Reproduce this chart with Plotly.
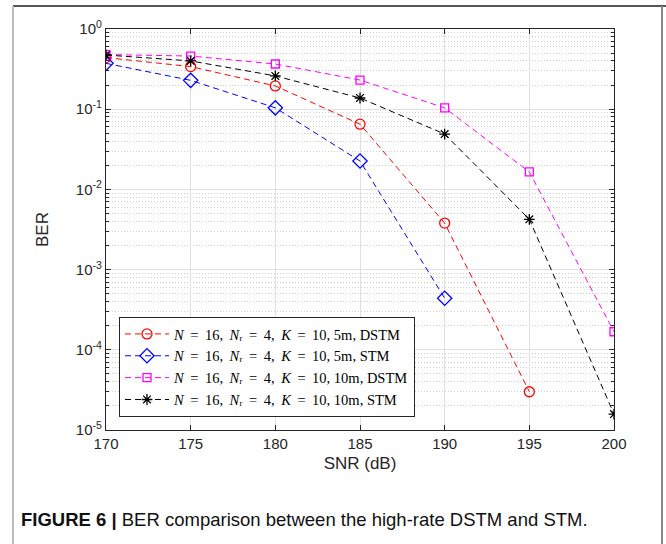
import plotly.graph_objects as go

snr = [170, 175, 180, 185, 190, 195, 200]

ber_5m_dstm = [0.44, 0.34, 0.195, 0.065, 0.0038, 3.0e-5]
ber_5m_stm = [0.373, 0.229, 0.104, 0.0226, 4.4e-4]
ber_10m_dstm = [0.48, 0.46, 0.366, 0.231, 0.104, 0.0165, 1.68e-4]
ber_10m_stm = [0.474, 0.40, 0.26, 0.138, 0.049, 0.00424, 1.58e-5]

TS = "\u2009"
EQ = "&nbsp;" + TS + "=&nbsp;" + TS
CM = ",&nbsp;" + TS
base = f"<i>N</i>{EQ}16{CM}<i>N</i>ᵣ{EQ}4{CM}<i>K</i>{EQ}10, "
names = [
    base + "5m, DSTM",
    base + "5m, STM",
    base + "10m, DSTM",
    base + "10m, STM",
]
colors = ["#FF0000", "#0000FF", "#FF00FF", "#000000"]
symbols = ["circle-open", "diamond-open", "square-open", "asterisk-open"]
sizes = [10, 11, 8, 9]
series = [ber_5m_dstm, ber_5m_stm, ber_10m_dstm, ber_10m_stm]

y_tickvals = [1, 0.1, 0.01, 0.001, 1e-4, 1e-5]
y_ticktext = ["10<sup>0</sup>", "10<sup>-1</sup>", "10<sup>-2</sup>",
              "10<sup>-3</sup>", "10<sup>-4</sup>", "10<sup>-5</sup>"]
x_tickvals = [170, 175, 180, 185, 190, 195, 200]

minor_vals = [m * 10 ** e for e in range(-5, 0) for m in range(2, 10)]

fig = go.Figure()
for ys, nm, c, s, sz in zip(series, names, colors, symbols, sizes):
    fig.add_trace(go.Scatter(
        x=snr[:len(ys)], y=ys, name=nm, mode="lines+markers",
        line=dict(color=c, width=1, dash="6px,4px"),
        marker=dict(symbol=s, size=sz, color=c, line=dict(color=c, width=1.3)),
    ))

W, H = 666, 544
L, R, T, B = 106, 614, 29, 430
pw, ph = R - L, B - T

def px(xp):
    return (xp - L) / pw

def py(yp):
    return (B - yp) / ph

fig.update_layout(
    width=W, height=H,
    margin=dict(l=L, r=W - R, t=T, b=H - B),
    paper_bgcolor="white", plot_bgcolor="white",
    font=dict(family="Liberation Sans, Arial, sans-serif", size=15, color="#262626"),
    showlegend=True,
    legend=dict(
        x=px(119), y=py(417), xanchor="left", yanchor="bottom",
        bgcolor="white", bordercolor="#262626", borderwidth=1,
        font=dict(family="Liberation Serif, DejaVu Serif, serif", size=14.5, color="#000000"),
        itemwidth=44, tracegroupgap=0,
    ),
    xaxis=dict(
        range=[170, 200], tickvals=x_tickvals, ticktext=[str(v) for v in x_tickvals],
        showline=True, linecolor="#262626", linewidth=1.2, mirror="ticks",
        ticks="inside", ticklen=5, tickcolor="#262626",
        showgrid=True, gridcolor="#E0E0E0", gridwidth=1, zeroline=False,
        title=dict(text="SNR (dB)", font=dict(size=17), standoff=6),
        tickfont=dict(size=15),
    ),
    yaxis=dict(
        type="log", range=[-5, 0], tickvals=y_tickvals, ticktext=y_ticktext,
        showline=True, linecolor="#262626", linewidth=1.2, mirror="ticks",
        ticks="inside", ticklen=5, tickcolor="#262626",
        showgrid=True, gridcolor="#E0E0E0", gridwidth=1, zeroline=False,
        minor=dict(tickvals=minor_vals, ticks="inside", ticklen=3, tickcolor="#262626",
                   showgrid=True, gridcolor="#CFCFCF", griddash="1px,2px", gridwidth=1),
        title=dict(text="BER", font=dict(size=17), standoff=22),
        tickfont=dict(size=15),
    ),
)

# Journal figure frame
fig.add_shape(type="line", xref="paper", yref="paper",
              x0=px(13), x1=px(670), y0=py(6), y1=py(6),
              line=dict(color="#555555", width=2))
fig.add_shape(type="line", xref="paper", yref="paper",
              x0=px(13), x1=px(13), y0=py(6), y1=py(560),
              line=dict(color="#BBBBBB", width=2))
fig.add_shape(type="line", xref="paper", yref="paper",
              x0=px(662), x1=px(662), y0=py(6), y1=py(560),
              line=dict(color="#888888", width=2))

fig.add_annotation(
    xref="paper", yref="paper", x=px(19), y=py(519), xanchor="left", yanchor="middle",
    text="<b>FIGURE 6 |</b> BER comparison between the high-rate DSTM and STM.",
    showarrow=False, font=dict(family="Liberation Sans, Arial, sans-serif", size=18.5, color="#111111"),
)

fig.write_html("out.html", config={"displayModeBar": False},
               post_script="document.body.style.margin='0';document.body.style.overflow='hidden';")
